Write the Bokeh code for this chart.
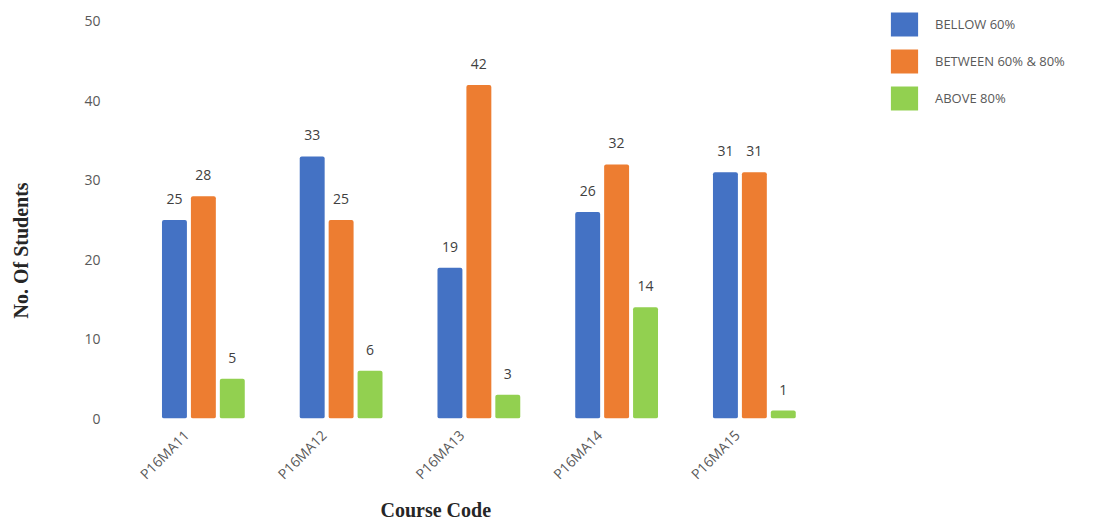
import math
from bokeh.plotting import figure
from bokeh.models import ColumnDataSource, Range1d, FixedTicker, Legend, LegendItem, Title
from bokeh.transform import dodge
from bokeh.core.properties import value
from bokeh.embed import file_html
from bokeh.resources import INLINE

courses = ["P16MA11", "P16MA12", "P16MA13", "P16MA14", "P16MA15"]
below_60 = [25, 33, 19, 26, 31]
between_60_80 = [28, 25, 42, 32, 31]
above_80 = [5, 6, 3, 14, 1]
series_names = ["BELLOW 60%", "BETWEEN 60% & 80%", "ABOVE 80%"]
colors = ["#4472C4", "#ED7D31", "#92D050"]
y_ticks = [0, 10, 20, 30, 40, 50]

xs = list(range(len(courses)))
source = ColumnDataSource(dict(x=xs, b=below_60, m=between_60_80, a=above_80,
                               bl=[str(v) for v in below_60],
                               ml=[str(v) for v in between_60_80],
                               al=[str(v) for v in above_80]))

p = figure(width=1090, height=526, output_backend="svg", toolbar_location=None,
           x_range=Range1d(-0.5, 6.404), y_range=Range1d(0, 52.64),
           min_border_left=134, min_border_right=5, min_border_top=0, min_border_bottom=108)
p.outline_line_color = None
p.xgrid.visible = False
p.ygrid.visible = False

tick_font = "Open Sans"
for ax in (p.xaxis, p.yaxis):
    ax.axis_line_color = None
    ax.major_tick_line_color = None
    ax.minor_tick_line_color = None
    ax.major_tick_out = 0
    ax.major_tick_in = 0
    ax.minor_tick_out = 0
    ax.major_label_text_font = tick_font
    ax.major_label_text_font_size = "14px"
    ax.major_label_text_color = "#595959"

p.yaxis.ticker = FixedTicker(ticks=y_ticks)
p.yaxis.major_label_standoff = 34

# rotated labels sit slightly left of each group centre, as in the reference
label_pos = [i - 0.125 for i in xs]
p.xaxis.ticker = FixedTicker(ticks=label_pos)
p.xaxis.major_label_overrides = {t: c for t, c in zip(label_pos, courses)}
p.xaxis.major_label_orientation = math.pi / 4
p.xaxis.major_label_standoff = 14

bw = 0.181
off = 0.21
items = []
for col, lab, o, color, name in [("b", "bl", -off, colors[0], series_names[0]),
                                 ("m", "ml", 0.0, colors[1], series_names[1]),
                                 ("a", "al", off, colors[2], series_names[2])]:
    r = p.vbar(x=dodge("x", o, range=p.x_range), top=col, width=bw, source=source,
               fill_color=color, line_color=None, border_radius=2)
    p.text(x=dodge("x", o, range=p.x_range), y=col, text=lab, source=source,
           text_align="center", text_baseline="bottom", y_offset=-16,
           text_font=value(tick_font), text_font_size="14px", text_color="#404040")
    items.append(LegendItem(label=name, renderers=[r]))

legend = Legend(items=items, location=(753, 305), padding=0, spacing=7,
                glyph_width=34, glyph_height=30, label_standoff=14,
                label_text_font=tick_font, label_text_font_size="13px",
                label_text_color="#595959", border_line_color=None,
                background_fill_alpha=0)
p.add_layout(legend)

# spacer between the y axis and its title
p.add_layout(Title(text=" ", standoff=42, text_font_size="1px"), "left")
p.add_layout(Title(text="No. Of Students", align="left", offset=100, standoff=10,
                   text_font="Liberation Serif", text_font_style="bold",
                   text_font_size="20px", text_color="#262626"), "left")
p.add_layout(Title(text="Course Code", align="left", offset=246, standoff=8,
                   text_font="Liberation Serif", text_font_style="bold",
                   text_font_size="20px", text_color="#262626"), "below")

open("out.html", "w").write(file_html(p, INLINE))
